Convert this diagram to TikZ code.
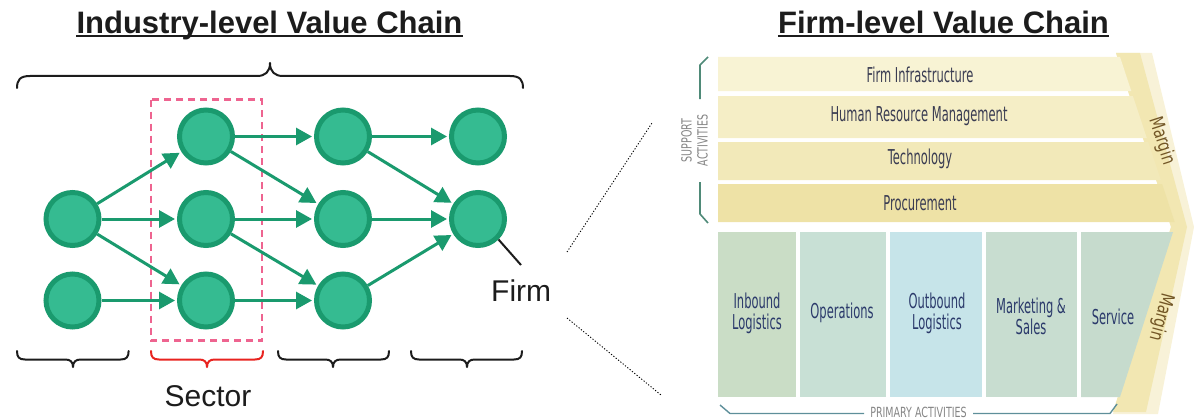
\documentclass[tikz,border=0pt]{standalone}
\usepackage{fontspec}
\setmainfont{Liberation Sans}
\newfontfamily\vcfont[FakeStretch=0.56]{DejaVu Sans}
\newfontfamily\capfont[FakeStretch=0.68]{DejaVu Sans}
\newfontfamily\mgfont[FakeStretch=0.75]{DejaVu Sans}
\usetikzlibrary{arrows.meta}

\definecolor{nodefill}{HTML}{35BB91}
\definecolor{nodering}{HTML}{1A9A6E}
\definecolor{sectorpink}{HTML}{EE6490}
\definecolor{sectorred}{HTML}{E8231F}
\definecolor{titleink}{HTML}{1C1C1C}
\definecolor{bandA}{HTML}{F8F3D4}
\definecolor{bandB}{HTML}{F5EEC6}
\definecolor{bandC}{HTML}{F2E9B9}
\definecolor{bandD}{HTML}{EEE2A6}
\definecolor{primA}{HTML}{CADDC6}
\definecolor{primB}{HTML}{C8E0D5}
\definecolor{primC}{HTML}{C6E4E9}
\definecolor{primD}{HTML}{C8DDD0}
\definecolor{primE}{HTML}{C6DBCD}
\definecolor{marginpale}{HTML}{F8F2D8}
\definecolor{marginfill}{HTML}{F2E7B2}
\definecolor{supink}{HTML}{3A3C52}
\definecolor{primink}{HTML}{2B3A6B}
\definecolor{marginink}{HTML}{725626}
\definecolor{greyink}{HTML}{858585}
\definecolor{supbracket}{HTML}{4F8A78}
\definecolor{pribracket}{HTML}{5E8F9A}

\tikzset{
  vnode/.style={circle, draw=nodering, fill=nodefill, line width=5pt,
    minimum size=53pt, inner sep=0pt},
  flow/.style={draw=nodering, line width=3pt, shorten >=2pt,
    -{Triangle[length=16pt,width=17pt]}},
  bracepath/.style={line width=2pt, line cap=round, line join=round},
  titletext/.style={font=\fontsize{31}{36}\selectfont\bfseries, text=titleink, inner sep=0pt},
  bigtext/.style={font=\fontsize{30}{34}\selectfont, text=titleink, inner sep=0pt},
  suptext/.style={font=\vcfont\fontsize{20.5}{22}\selectfont, text=supink, inner sep=0pt},
  primtext/.style={font=\vcfont\fontsize{20.5}{21.5}\selectfont, text=primink, inner sep=0pt, align=center},
  captext/.style={font=\capfont\fontsize{14}{16}\selectfont, text=greyink, inner sep=0pt, align=center},
  margintext/.style={font=\mgfont\fontsize{19}{21}\selectfont, text=marginink, inner sep=0pt},
  zoomline/.style={black, line width=0.9pt, dash pattern=on 1.2pt off 1.8pt},
}

% brace opening upwards, tip pointing down: #1 left, #2 tip, #3 right
\newcommand\lowbrace[4]{%
  \draw[bracepath,#4] (#1,351) .. controls (#1,357) and ({#1+2},359.5) .. ({#1+8},359.5)
    -- ({#2-8},359.5) .. controls ({#2-3},359.5) and (#2,361.5) .. (#2,367)
    .. controls (#2,361.5) and ({#2+3},359.5) .. ({#2+8},359.5)
    -- ({#3-8},359.5) .. controls ({#3-2},359.5) and (#3,357) .. (#3,351);}

\begin{document}
\begin{tikzpicture}[x=1pt,y=-1pt]
\useasboundingbox (0,0) rectangle (1194,420);

% ---------- industry-level chain ----------
\node[titletext, anchor=base] (t1) at (269.5,33.3) {Industry-level Value Chain};
\draw[titleink, line width=2pt] ([yshift=-3pt]t1.base west) -- ([yshift=-3pt]t1.base east);

% overall brace
\draw[bracepath, titleink] (17,88) .. controls (17,80) and (20,76) .. (30,76)
  -- (257,76) .. controls (265,76) and (270,72) .. (270,63)
  .. controls (270,72) and (275,76) .. (283,76)
  -- (510,76) .. controls (520,76) and (523,80) .. (523,88);

% sector frame
\draw[sectorpink, line width=2.2pt, dash pattern=on 7pt off 5pt] (151,99.5) rectangle (262,340.5);

% firms
\node[vnode] (a2) at (72.5,219) {};
\node[vnode] (a3) at (72.5,300.5) {};
\node[vnode] (b1) at (206,136.5) {};
\node[vnode] (b2) at (206,219) {};
\node[vnode] (b3) at (206,300.5) {};
\node[vnode] (c1) at (343,136.5) {};
\node[vnode] (c2) at (343,219) {};
\node[vnode] (c3) at (343,300.5) {};
\node[vnode] (d1) at (478,136.5) {};
\node[vnode] (d2) at (478,219) {};

% flows
\draw[flow] (a2) -- (b1);
\draw[flow] (a2) -- (b2);
\draw[flow] (a2) -- (b3);
\draw[flow] (a3) -- (b3);
\draw[flow] (b1) -- (c1);
\draw[flow] (b1) -- (c2);
\draw[flow] (b2) -- (c2);
\draw[flow] (b2) -- (c3);
\draw[flow] (b3) -- (c3);
\draw[flow] (c1) -- (d1);
\draw[flow] (c1) -- (d2);
\draw[flow] (c2) -- (d2);
\draw[flow] (c3) -- (d2);

% firm label
\coordinate (firmtip) at (521,265);
\draw[titleink, line width=2pt] (d2.-45) -- (firmtip);
\node[bigtext, anchor=base west] (firm) at (491,301.7) {Firm};

% sector braces
\lowbrace{17}{73}{128.6}{titleink}
\lowbrace{151}{207}{263}{sectorred}
\lowbrace{278}{333}{389}{titleink}
\lowbrace{411}{467}{522}{titleink}
\node[bigtext, anchor=base] (sector) at (208,406) {Sector};

% zoom lines
\coordinate (z1a) at (567,252);
\coordinate (z1b) at (652,123);
\coordinate (z2a) at (567,318);
\coordinate (z2b) at (661,395);
\draw[zoomline] (z1a) -- (z1b);
\draw[zoomline] (z2a) -- (z2b);

% ---------- firm-level chain ----------
\node[titletext, anchor=base] (t2) at (943.5,33.3) {Firm-level Value Chain};
\draw[titleink, line width=2pt] ([yshift=-3pt]t2.base west) -- ([yshift=-3pt]t2.base east);

% margin chevron: pale outer strip, warmer inner strip
\fill[marginpale] (1116,53) -- (1152,53) -- (1194,227) -- (1158,414) -- (1113,414) -- (1171,227) -- cycle;
\fill[marginfill] (1116,53) -- (1140,53) -- (1187,227) -- (1146,412) -- (1113,412) -- (1171,227) -- cycle;

% support activities
\fill[bandA] (718,57) -- (1120,57) -- (1131.3,91) -- (718,91) -- cycle;
\fill[bandB] (718,96) -- (1132.9,96) -- (1146.8,138) -- (718,138) -- cycle;
\fill[bandC] (718,142) -- (1148.2,142) -- (1160.8,180) -- (718,180) -- cycle;
\fill[bandD] (718,184) -- (1162.1,184) -- (1174.7,222) -- (718,222) -- cycle;

% primary activities
\fill[primA] (718,232) rectangle (795.5,397);
\fill[primB] (799.5,232) rectangle (885.5,397);
\fill[primC] (889.5,232) rectangle (982,397);
\fill[primD] (986,232) rectangle (1077,397);
\fill[primE] (1081,232) -- (1173,232) -- (1120,397) -- (1081,397) -- cycle;

% labels
\node[suptext] (fi) at (920,75) {Firm Infrastructure};
\node[suptext] (hr) at (919,116) {Human Resource Management};
\node[suptext] (te) at (920,159) {Technology};
\node[suptext] (pr) at (920,203) {Procurement};

\node[primtext] (ib) at (757,313.5) {Inbound\\Logistics};
\node[primtext] (op) at (842,313) {Operations};
\node[primtext] (ob) at (937,313.5) {Outbound\\Logistics};
\node[primtext] (ms) at (1031,316.5) {Marketing \&\\Sales};
\node[primtext] (sv) at (1113,316.5) {Service};

\node[margintext, rotate=-72] (m1) at (1162,141) {Margin};
\node[margintext, rotate=-105] (m2) at (1161,317) {Margin};

% group brackets
\draw[supbracket, line width=1.6pt, line join=round] (708,57) -- (700,65) -- (700,99);
\draw[supbracket, line width=1.6pt, line join=round] (700,182) -- (700,214) -- (708,223);
\node[captext, rotate=90] (sa) at (694.5,140.5) {SUPPORT\\ACTIVITIES};

\draw[pribracket, line width=1.4pt, line join=round] (720,405) -- (730,413.5) -- (864,413.5);
\draw[pribracket, line width=1.4pt, line join=round] (973,413.5) -- (1110,413.5) -- (1117,404);
\node[captext, anchor=base] (pa) at (918.5,417.5) {PRIMARY ACTIVITIES};

\end{tikzpicture}
\end{document}
